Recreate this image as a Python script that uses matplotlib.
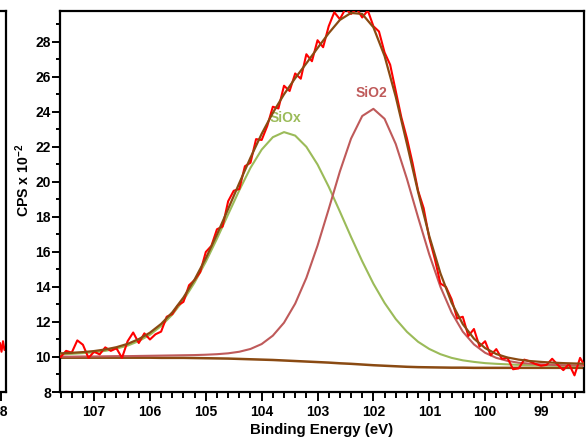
import matplotlib
matplotlib.use("Agg")
import matplotlib.pyplot as plt
from matplotlib.ticker import MultipleLocator

plt.rcParams['font.family'] = ['Liberation Sans', 'DejaVu Sans']
plt.rcParams['font.weight'] = 'bold'
plt.rcParams['mathtext.fontset'] = 'custom'
plt.rcParams['mathtext.rm'] = 'Liberation Sans:bold'
plt.rcParams['mathtext.default'] = 'rm'

# Binding energy grid of the fitted curves (eV)
energy_fit = [107.6, 107.4, 107.2, 107.0, 106.8, 106.6, 106.4, 106.2, 106.0, 105.8,
              105.6, 105.4, 105.2, 105.0, 104.8, 104.6, 104.4, 104.2, 104.0, 103.8,
              103.6, 103.4, 103.2, 103.0, 102.8, 102.6, 102.4, 102.2, 102.0, 101.8,
              101.6, 101.4, 101.2, 101.0, 100.8, 100.6, 100.4, 100.2, 100.0, 99.8,
              99.6, 99.4, 99.2, 99.0, 98.8, 98.6, 98.4, 98.2]

# Shirley background (CPS x 10^-2)
background = [9.96, 9.96, 9.96, 9.96, 9.96, 9.96, 9.96, 9.96, 9.96, 9.95,
              9.95, 9.95, 9.94, 9.93, 9.92, 9.91, 9.89, 9.87, 9.85, 9.83,
              9.80, 9.77, 9.74, 9.71, 9.68, 9.64, 9.61, 9.57, 9.53, 9.50,
              9.47, 9.44, 9.42, 9.41, 9.40, 9.39, 9.39, 9.38, 9.38, 9.38,
              9.38, 9.38, 9.38, 9.38, 9.38, 9.38, 9.38, 9.38]

# SiOx component (including background)
siox = [10.15, 10.18, 10.22, 10.27, 10.35, 10.48, 10.65, 10.91, 11.27, 11.77,
        12.42, 13.25, 14.26, 15.44, 16.76, 18.15, 19.53, 20.81, 21.85, 22.56,
        22.85, 22.65, 22.01, 21.00, 19.73, 18.31, 16.86, 15.47, 14.19, 13.09,
        12.17, 11.44, 10.87, 10.46, 10.16, 9.95, 9.81, 9.72, 9.65, 9.61,
        9.58, 9.55, 9.53, 9.52, 9.51, 9.50, 9.49, 9.48]

# SiO2 component (including background)
sio2 = [10.02, 10.02, 10.03, 10.03, 10.04, 10.05, 10.05, 10.06, 10.07, 10.08,
        10.09, 10.10, 10.11, 10.13, 10.16, 10.21, 10.30, 10.46, 10.74, 11.22,
        11.96, 13.05, 14.52, 16.36, 18.45, 20.60, 22.48, 23.77, 24.18, 23.61,
        22.17, 20.18, 17.98, 15.86, 14.01, 12.54, 11.45, 10.72, 10.24, 9.95,
        9.78, 9.67, 9.62, 9.58, 9.55, 9.53, 9.52, 9.50]

# Fit envelope
envelope = [10.21, 10.24, 10.28, 10.34, 10.43, 10.56, 10.75, 11.02, 11.39, 11.89,
            12.55, 13.40, 14.43, 15.64, 17.00, 18.46, 19.94, 21.39, 22.75, 23.95,
            25.01, 25.93, 26.78, 27.65, 28.50, 29.26, 29.66, 29.60, 28.84, 27.20,
            24.87, 22.18, 19.43, 16.91, 14.78, 13.10, 11.88, 11.05, 10.51, 10.17,
            9.97, 9.85, 9.77, 9.72, 9.68, 9.65, 9.63, 9.61]

# Measured spectrum
energy_raw = [107.6, 107.5, 107.4, 107.3, 107.2, 107.1, 107.0, 106.9, 106.8, 106.7,
              106.6, 106.5, 106.4, 106.3, 106.2, 106.1, 106.0, 105.9, 105.8, 105.7,
              105.6, 105.5, 105.4, 105.3, 105.2, 105.1, 105.0, 104.9, 104.8, 104.7,
              104.6, 104.5, 104.4, 104.3, 104.2, 104.1, 104.0, 103.9, 103.8, 103.7,
              103.6, 103.5, 103.4, 103.3, 103.2, 103.1, 103.0, 102.9, 102.8, 102.7,
              102.6, 102.5, 102.4, 102.3, 102.2, 102.1, 102.0, 101.9, 101.8, 101.7,
              101.6, 101.5, 101.4, 101.3, 101.2, 101.1, 101.0, 100.9, 100.8, 100.7,
              100.6, 100.5, 100.4, 100.3, 100.2, 100.1, 100.0, 99.9, 99.8, 99.7,
              99.6, 99.5, 99.4, 99.3, 99.2, 99.1, 99.0, 98.9, 98.8, 98.7,
              98.6, 98.5, 98.4, 98.3, 98.2]
counts_raw = [10.00, 10.35, 10.25, 10.95, 10.70, 9.95, 10.30, 10.15, 10.55, 10.35,
              10.50, 9.95, 10.90, 11.40, 10.80, 11.35, 11.00, 11.30, 11.45, 12.30,
              12.45, 12.95, 13.15, 14.10, 14.40, 14.85, 16.00, 16.35, 17.30, 17.45,
              18.90, 19.50, 19.60, 20.90, 21.10, 22.45, 22.40, 23.20, 24.30, 24.20,
              25.50, 25.20, 26.20, 25.90, 27.30, 26.90, 28.10, 27.70, 28.90, 29.70,
              29.30, 29.90, 29.60, 29.90, 29.40, 29.80, 28.90, 28.60, 27.40, 26.70,
              25.20, 23.70, 22.50, 21.10, 19.50, 18.50, 16.80, 15.60, 14.20, 14.00,
              13.30, 12.20, 12.30, 11.20, 11.60, 10.60, 10.90, 10.10, 10.45, 9.90,
              9.95, 9.30, 9.35, 9.85, 9.75, 9.60, 9.50, 9.55, 9.90, 9.55,
              9.25, 9.60, 8.95, 9.95, 9.40]

# Neighbouring panel (only its right edge shows)
left_x = [0.975, 0.98, 0.985, 0.99, 0.995, 1.0]
left_y = [10.2, 10.8, 10.3, 10.9, 10.4, 10.6]

x_major = [107, 106, 105, 104, 103, 102, 101, 100, 99]
y_major = [8, 10, 12, 14, 16, 18, 20, 22, 24, 26, 28]

W, H = 588, 441
fig = plt.figure(figsize=(W / 100, H / 100), dpi=100)

ax_l, ax_r, ax_b, ax_t = 60 / W, 584 / W, 1 - 392 / H, 1 - 11 / H
ax = fig.add_axes([ax_l, ax_b, ax_r - ax_l, ax_t - ax_b])

brown = '#8A4A12'
ax.plot(energy_fit, background, color=brown, lw=1.8, zorder=2)
ax.plot(energy_fit, siox, color='#9BBB59', lw=1.5, zorder=3)
ax.plot(energy_fit, sio2, color='#BF5A5A', lw=1.5, zorder=3)
ax.plot(energy_raw, counts_raw, color='#FF0000', lw=1.5, zorder=4)
ax.plot(energy_fit, envelope, color=brown, lw=1.6, zorder=5)

ax.text(103.58, 23.66, 'SiOx', color='#9BBB59', fontsize=10, fontweight='bold',
        ha='center', va='center')
ax.text(102.03, 25.09, 'SiO2', color='#BF5A5A', fontsize=10, fontweight='bold',
        ha='center', va='center')

ax.set_xlim(107.61, 98.23)
ax.set_ylim(8, 29.77)
ax.set_xticks(x_major)
ax.set_xticklabels([str(v) for v in x_major])
ax.xaxis.set_minor_locator(MultipleLocator(0.2))
ax.set_yticks(y_major)
ax.set_yticklabels([str(v) for v in y_major])
ax.yaxis.set_minor_locator(MultipleLocator(1))

ax.tick_params(which='both', direction='out', width=1.4, labelsize=10,
               top=False, right=False)
ax.tick_params(axis='x', which='major', length=6.5, pad=3)
ax.tick_params(axis='x', which='minor', length=4)
ax.tick_params(axis='y', which='major', length=5.5, pad=1)
ax.tick_params(axis='y', which='minor', length=3)
for lab in ax.get_xticklabels() + ax.get_yticklabels():
    lab.set_fontweight('bold')
for sp in ax.spines.values():
    sp.set_linewidth(1.6)

ax.set_xlabel('Binding Energy (eV)', fontsize=10.8, fontweight='bold', labelpad=3)
fig.text(23 / W, 1 - 180 / H, 'CPS x 10$^{-2}$', rotation=90, fontsize=10.2,
         fontweight='bold', ha='center', va='center')

# Right edge of the adjacent panel
axl = fig.add_axes([-294 / W, ax_b, 300 / W, ax_t - ax_b])
axl.plot(left_x, left_y, color='#FF0000', lw=1.5)
axl.set_xlim(0, 1)
axl.set_ylim(8, 29.77)
axl.set_yticks([])
axl.set_xticks([0.9817])
axl.set_xticklabels(['98'])
axl.tick_params(axis='x', direction='out', width=1.4, length=6.5, labelsize=10, pad=3)
for lab in axl.get_xticklabels():
    lab.set_fontweight('bold')
for sp in axl.spines.values():
    sp.set_linewidth(1.6)

fig.savefig('out.png', dpi=100)
